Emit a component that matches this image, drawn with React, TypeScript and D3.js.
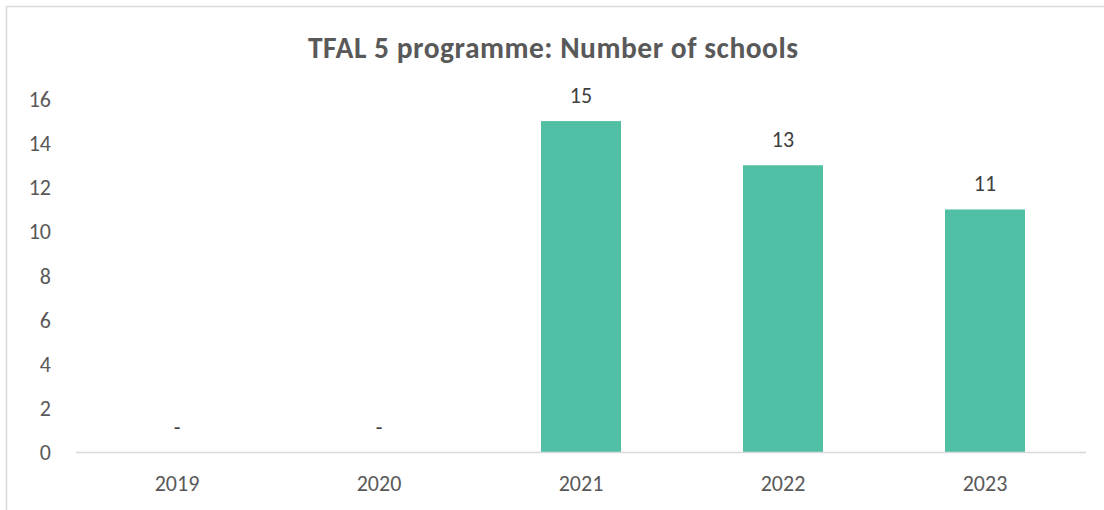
import React from "react";
import * as d3 from "d3";

const categories = ["2019", "2020", "2021", "2022", "2023"];
const values = [0, 0, 15, 13, 11];
const yTicks = [0, 2, 4, 6, 8, 10, 12, 14, 16];
const title = "TFAL 5 programme: Number of schools";

const W = 1104;
const H = 510;
const FONT = "Carlito, Calibri, Lato, 'Open Sans', sans-serif";
const GREY = "#595959";

export default function App() {
  const x = d3.scaleBand<string>().domain(categories).range([76, 1086]).paddingInner(0.604).paddingOuter(0.302);
  const y = d3.scaleLinear().domain([0, 16]).range([452.5, 99]);
  return (
    <svg width={W} height={H} style={{ position: "absolute", left: 0, top: 0, background: "#fff" }} fontFamily={FONT}>
      <rect x={6.5} y={6.5} width={W + 10} height={H + 10} fill="#fff" stroke="#d9d9d9" strokeWidth={1.5} />
      <text x={553} y={58} textAnchor="middle" fontSize={29.5} fontWeight="bold" fill={GREY} textLength={490} lengthAdjust="spacing">{title}</text>
      {yTicks.map((t) => (
        <text key={t} x={51} y={y(t)} dy="0.36em" textAnchor="end" fontSize={22} fill={GREY}>{t}</text>
      ))}
      {categories.map((c, i) => (
        <g key={c}>
          {values[i] > 0 && (
            <rect x={x(c)} y={y(values[i])} width={x.bandwidth()} height={y(0) - y(values[i])} fill="#50BFA4" />
          )}
          <text x={(x(c) as number) + x.bandwidth() / 2} y={y(values[i]) - 18} textAnchor="middle" fontSize={22} fill="#404040">
            {values[i] > 0 ? values[i] : "-"}
          </text>
          <text x={(x(c) as number) + x.bandwidth() / 2} y={491} textAnchor="middle" fontSize={22} fill={GREY}>{c}</text>
        </g>
      ))}
      <line x1={76} x2={1086} y1={y(0)} y2={y(0)} stroke="#d9d9d9" strokeWidth={1.5} />
    </svg>
  );
}
